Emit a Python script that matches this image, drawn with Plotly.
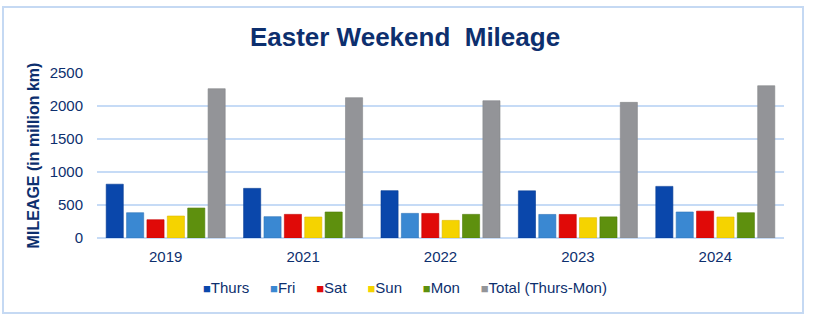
import plotly.graph_objects as go

# Easter weekend mileage, in million km
years = ["2019", "2021", "2022", "2023", "2024"]
thurs = [815, 752, 717, 715, 782]
fri = [383, 323, 373, 357, 394]
sat = [277, 358, 372, 357, 407]
sun = [333, 318, 267, 308, 318]
mon = [454, 394, 358, 320, 383]
total = [2262, 2126, 2080, 2055, 2307]

series_names = ["Thurs", "Fri", "Sat", "Sun", "Mon", "Total (Thurs-Mon)"]
series_values = [thurs, fri, sat, sun, mon, total]
series_colors = ["#0a47ab", "#3a88d2", "#e00a08", "#f5d300", "#5e900e", "#939498"]
series_edges = ["#063c94", "#2f76ba", "#c40404", "#ddb800", "#4f7c08", "#85868a"]

NAVY = "#0d2f6e"
GRID = "#c6dbf6"

fig = go.Figure()
for name, vals, col, edge in zip(series_names, series_values, series_colors, series_edges):
    fig.add_trace(go.Bar(
        x=years, y=vals, name=name,
        marker=dict(color=col, line=dict(color=edge, width=0.6)),
        showlegend=False,
    ))

# Legend row drawn as a single line of coloured squares and labels
legend_html = "&nbsp;&nbsp;&nbsp;&nbsp;&nbsp;".join(
    f"<span style='color:{c};font-size:13px'>■</span>{n}" for n, c in zip(series_names, series_colors)
)

fig.update_layout(
    width=814, height=322,
    margin=dict(l=97, r=30, t=73, b=84),
    paper_bgcolor="white", plot_bgcolor="white",
    barmode="group", bargap=0.11, bargroupgap=0.16,
    font=dict(family="Liberation Sans, Arial, sans-serif", color=NAVY, size=15),
    title=dict(
        text="<b>Easter Weekend  Mileage</b>",
        x=405 / 814, xref="container", xanchor="center",
        y=1 - 37 / 322, yref="container", yanchor="middle",
        font=dict(size=26, color=NAVY),
    ),
    xaxis=dict(
        showgrid=False, showline=False, zeroline=False,
        tickfont=dict(size=15, color=NAVY), ticks="", ticklabelstandoff=8,
    ),
    yaxis=dict(
        range=[0, 2500], dtick=500, tick0=0,
        showgrid=True, gridcolor=GRID, gridwidth=1.5,
        zeroline=True, zerolinecolor=GRID, zerolinewidth=1.5,
        showline=False, ticks="", ticklabelstandoff=13,
        tickfont=dict(size=15, color=NAVY),
        title=dict(text="<b>MILEAGE (in million km)</b>", font=dict(size=16, color=NAVY), standoff=6),
    ),
    annotations=[dict(
        text=legend_html, showarrow=False,
        xref="paper", yref="paper", x=(405 - 97) / 687, y=-0.303,
        xanchor="center", yanchor="middle",
        font=dict(size=15, color=NAVY),
    )],
    shapes=[dict(
        type="rect", xref="paper", yref="paper",
        x0=(3 - 97) / 687, x1=(803 - 97) / 687,
        y0=(238 - 313) / 165, y1=(238 - 7) / 165,
        line=dict(color="#c5d9f3", width=2), fillcolor="rgba(0,0,0,0)", layer="below",
    )],
)

fig.write_html("out.html")
